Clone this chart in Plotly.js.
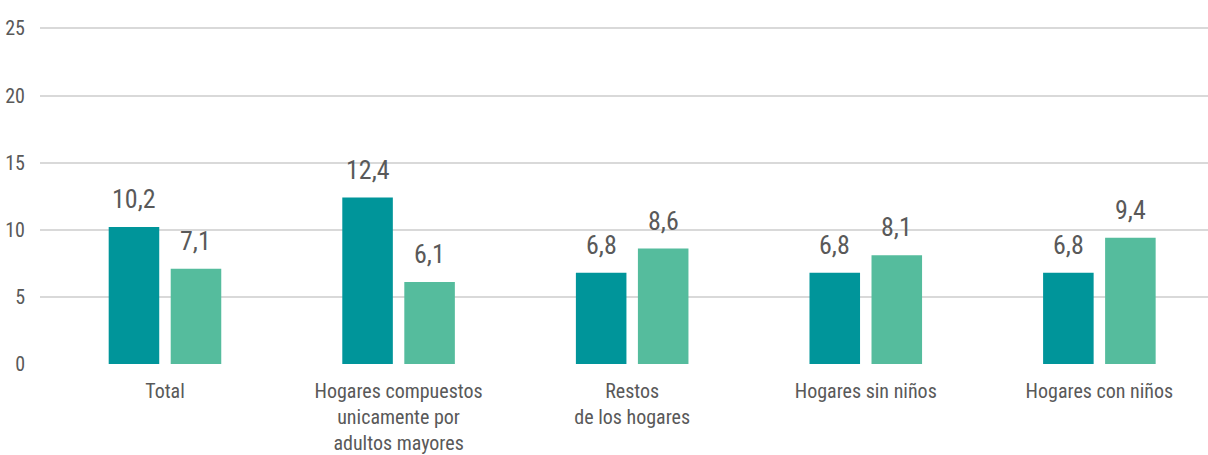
<!DOCTYPE html>
<html><head><meta charset="utf-8">
<script src="https://cdn.plot.ly/plotly-3.0.1.min.js"></script>
<style>body{margin:0;background:#fff}</style>
</head><body><div id="chart" style="width:1208px;height:455px"></div>
<script>
const categories = ["Total", "Hogares compuestos<br>unicamente por<br>adultos mayores", "Restos<br>de los hogares", "Hogares sin niños", "Hogares con niños"];
const seriesA = [10.2, 12.4, 6.8, 6.8, 6.8];
const seriesB = [7.1, 6.1, 8.6, 8.1, 9.4];
const yTicks = [0, 5, 10, 15, 20, 25];

const FONT = '"Roboto Condensed", "DejaVu Sans Condensed", sans-serif';
const TXT = '#595959';
const colA = '#00959A', colB = '#55BC9D';

function fmt(v){ return v.toFixed(1).replace('.', ','); }

const traces = [
  {type:'bar', x:categories, y:seriesA, marker:{color:colA}, hoverinfo:'skip'},
  {type:'bar', x:categories, y:seriesB, marker:{color:colB}, hoverinfo:'skip'}
];

const annotations = [];
const shiftPx = 31;
categories.forEach((c,i)=>{
  annotations.push({x:c, y:seriesA[i], text:fmt(seriesA[i]), showarrow:false, xanchor:'center', yanchor:'bottom', xshift:-shiftPx, yshift:11, font:{family:FONT, size:26, color:TXT}});
  annotations.push({x:c, y:seriesB[i], text:fmt(seriesB[i]), showarrow:false, xanchor:'center', yanchor:'bottom', xshift:shiftPx, yshift:11, font:{family:FONT, size:26, color:TXT}});
});

const layout = {
  width:1208, height:455,
  margin:{l:40, r:0, t:15, b:91},
  paper_bgcolor:'#fff', plot_bgcolor:'#fff',
  showlegend:false,
  barmode:'group', bargap:0.469, bargroupgap:0.185,
  font:{family:FONT, color:TXT},
  xaxis:{type:'category', range:[-0.535, 4.465], showgrid:false, zeroline:false, showline:false,
         ticks:'outside', ticklen:9, tickcolor:'rgba(0,0,0,0)', tickfont:{family:FONT, size:20, color:TXT}},
  yaxis:{range:[0,26], tickvals:yTicks, ticktext:yTicks.map(String), showgrid:true, gridcolor:'#D9D9D9', gridwidth:2,
         zeroline:false, showline:false, ticks:'outside', ticklen:10, tickcolor:'rgba(0,0,0,0)',
         tickfont:{family:FONT, size:20, color:TXT}},
  annotations:annotations
};
Plotly.newPlot('chart', traces, layout, {staticPlot:true, displayModeBar:false});
</script></body></html>
